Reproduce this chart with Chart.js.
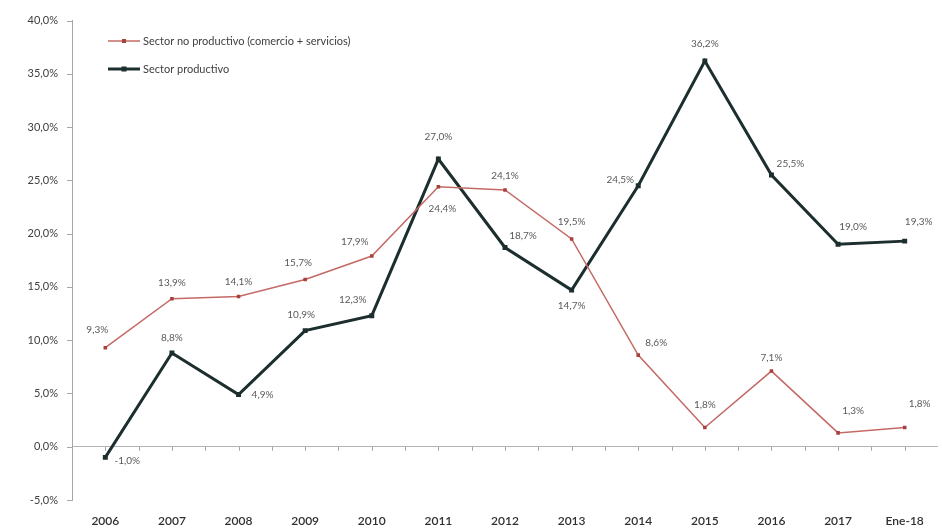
<!DOCTYPE html>
<html>
<head>
<meta charset="utf-8">
<script src="https://cdn.jsdelivr.net/npm/chart.js@4/dist/chart.umd.min.js"></script>
<style>
  html, body { margin: 0; padding: 0; background: #ffffff; }
  #wrap { width: 942px; height: 529px; }
</style>
</head>
<body>
<div id="wrap"><canvas id="c" width="942" height="529"></canvas></div>
<script>
// Categories (years) and growth rates by sector, in %
const categories = ['2006','2007','2008','2009','2010','2011','2012','2013','2014','2015','2016','2017','Ene-18'];
const noProductivo = [9.3, 13.9, 14.1, 15.7, 17.9, 24.4, 24.1, 19.5, 8.6, 1.8, 7.1, 1.3, 1.8];
const productivo   = [-1.0, 8.8, 4.9, 10.9, 12.3, 27.0, 18.7, 14.7, 24.5, 36.2, 25.5, 19.0, 19.3];
const yTicks = [-5, 0, 5, 10, 15, 20, 25, 30, 35, 40];
const seriesNames = ['Sector no productivo (comercio + servicios)', 'Sector productivo'];

// Where each value label sits relative to its point (dx, dy in px)
const labelShiftNo = [[-8,-18],[0,-16],[0,-15],[-7,-17],[-17,-14],[4,22],[0,-14],[0,-17],[18,-12],[0,-23],[0,-13],[15,-22],[15,-24]];
const labelShiftProd = [[22,3],[0,-15],[24,0],[-4,-16],[-19,-16],[0,-22],[18,-12],[0,16],[-18,-6],[0,-17],[19,-11],[15,-18],[14,-19]];

const fmt = v => v.toFixed(1).replace('.', ',') + '%';

const RED = '#c46a66';
const RED_MARK = '#a8403c';
const DARK = '#1c2e2e';

const valueLabels = {
  id: 'valueLabels',
  afterDatasetsDraw(chart) {
    const ctx = chart.ctx;
    ctx.save();
    ctx.font = '10px Lato, "Liberation Sans", sans-serif';
    ctx.fillStyle = '#5a5a5a';
    ctx.textAlign = 'center';
    ctx.textBaseline = 'middle';
    const shifts = [labelShiftNo, labelShiftProd];
    chart.data.datasets.forEach((ds, di) => {
      const meta = chart.getDatasetMeta(di);
      meta.data.forEach((pt, i) => {
        const s = shifts[di][i];
        ctx.fillText(fmt(ds.data[i]), pt.x + s[0], pt.y + s[1]);
      });
    });
    ctx.restore();
  }
};

// Zero line tick marks and the legend in the upper-left corner
const decorations = {
  id: 'decorations',
  beforeDatasetsDraw(chart) {
    const ctx = chart.ctx;
    const x = chart.scales.x, y = chart.scales.y;
    const y0 = y.getPixelForValue(0);
    ctx.save();
    ctx.strokeStyle = '#a6a6a6';
    ctx.lineWidth = 1;
    ctx.beginPath();
    for (let i = 0; i < categories.length; i++) {
      const c = x.getPixelForValue(i);
      const half = (x.getPixelForValue(1) - x.getPixelForValue(0)) / 2;
      [c - half, c].forEach(px => {
        ctx.moveTo(Math.round(px) + 0.5, y0);
        ctx.lineTo(Math.round(px) + 0.5, y0 + 4);
      });
    }
    ctx.stroke();
    ctx.restore();
  },
  afterDraw(chart) {
    const ctx = chart.ctx;
    ctx.save();
    const items = [
      { color: RED, mark: RED_MARK, w: 1.5, m: 4, y: 41 },
      { color: DARK, mark: DARK, w: 3, m: 5, y: 69 }
    ];
    ctx.font = '11px Lato, "Liberation Sans", sans-serif';
    ctx.textBaseline = 'middle';
    ctx.textAlign = 'left';
    items.forEach((it, i) => {
      ctx.strokeStyle = it.color;
      ctx.lineWidth = it.w;
      ctx.beginPath();
      ctx.moveTo(108, it.y);
      ctx.lineTo(140, it.y);
      ctx.stroke();
      ctx.fillStyle = it.mark;
      ctx.fillRect(124 - it.m / 2, it.y - it.m / 2, it.m, it.m);
      ctx.fillStyle = '#404040';
      ctx.fillText(seriesNames[i], 143, it.y);
    });
    ctx.restore();
  }
};

new Chart(document.getElementById('c'), {
  type: 'line',
  data: {
    labels: categories,
    datasets: [
      {
        label: seriesNames[0],
        data: noProductivo,
        borderColor: RED,
        borderWidth: 1.5,
        pointStyle: 'rect',
        pointRadius: 2.5,
        pointBackgroundColor: RED_MARK,
        pointBorderColor: RED_MARK,
        pointBorderWidth: 0,
        tension: 0
      },
      {
        label: seriesNames[1],
        data: productivo,
        borderColor: DARK,
        borderWidth: 3,
        pointStyle: 'rect',
        pointRadius: 3.5,
        pointBackgroundColor: DARK,
        pointBorderColor: DARK,
        pointBorderWidth: 0,
        tension: 0
      }
    ]
  },
  options: {
    responsive: false,
    animation: false,
    devicePixelRatio: 1,
    layout: { padding: { top: 19, right: 3, left: 0, bottom: 0 } },
    plugins: {
      legend: { display: false },
      tooltip: { enabled: false }
    },
    scales: {
      x: {
        offset: true,
        grid: { display: false, drawTicks: false },
        border: { display: false },
        ticks: {
          color: '#303030',
          font: { family: 'Lato, "Liberation Sans", sans-serif', size: 12, weight: '600' },
          padding: 14,
          maxRotation: 0,
          autoSkip: false
        },
        afterFit(scale) { scale.height = 29; }
      },
      y: {
        min: -5,
        max: 40,
        afterBuildTicks(scale) { scale.ticks = yTicks.map(v => ({ value: v })); },
        grid: {
          color: ctx => (ctx.tick && ctx.tick.value === 0 ? '#b4b4b4' : 'rgba(0,0,0,0)'),
          drawTicks: false,
          lineWidth: 1
        },
        border: { display: true, color: '#a6a6a6', width: 1 },
        ticks: {
          color: '#404040',
          font: { family: 'Lato, "Liberation Sans", sans-serif', size: 11 },
          padding: 14,
          callback: v => v.toFixed(1).replace('.', ',') + '%'
        },
        afterFit(scale) { scale.width = 72; }
      }
    }
  },
  plugins: [decorations, valueLabels,
    {
      id: 'yTickMarks',
      afterDraw(chart) {
        const ctx = chart.ctx, y = chart.scales.y;
        const left = chart.chartArea.left;
        ctx.save();
        ctx.strokeStyle = '#a6a6a6';
        ctx.lineWidth = 1;
        ctx.beginPath();
        yTicks.forEach(v => {
          const py = Math.round(y.getPixelForValue(v)) + 0.5;
          ctx.moveTo(left - 5, py);
          ctx.lineTo(left, py);
        });
        ctx.stroke();
        ctx.restore();
      }
    }
  ]
});
</script>
</body>
</html>
